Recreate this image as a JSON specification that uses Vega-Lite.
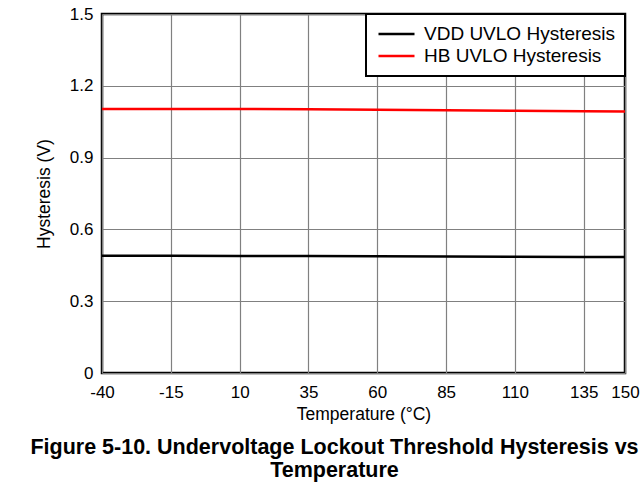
{
  "$schema": "https://vega.github.io/schema/vega-lite/v6.json",
  "width": 523,
  "height": 359,
  "autosize": {"type": "none"},
  "padding": {"left": 102, "top": 14, "right": 15, "bottom": 110},
  "background": "white",
  "config": {
    "font": "Liberation Sans",
    "view": {"stroke": "black", "strokeWidth": 2.5},
    "axis": {"labelFont": "Liberation Sans", "titleFont": "Liberation Sans", "labelColor": "black", "titleColor": "black", "titleFontWeight": "normal", "domain": false, "ticks": false, "gridColor": "#808080", "gridOpacity": 1, "gridWidth": 1.2}
  },
  "title": {
    "text": ["Figure 5-10. Undervoltage Lockout Threshold Hysteresis vs", "Temperature"],
    "orient": "bottom",
    "anchor": "middle",
    "font": "Liberation Sans",
    "fontSize": 21.5,
    "fontWeight": "bold",
    "color": "black",
    "lineHeight": 23.5,
    "dx": -29,
    "offset": 14
  },
  "data": {
    "values": [
      {"t": -40, "v": 0.490, "s": "VDD UVLO Hysteresis"},
      {"t": -15, "v": 0.490, "s": "VDD UVLO Hysteresis"},
      {"t": 10, "v": 0.489, "s": "VDD UVLO Hysteresis"},
      {"t": 35, "v": 0.489, "s": "VDD UVLO Hysteresis"},
      {"t": 60, "v": 0.488, "s": "VDD UVLO Hysteresis"},
      {"t": 85, "v": 0.487, "s": "VDD UVLO Hysteresis"},
      {"t": 110, "v": 0.486, "s": "VDD UVLO Hysteresis"},
      {"t": 135, "v": 0.485, "s": "VDD UVLO Hysteresis"},
      {"t": 150, "v": 0.485, "s": "VDD UVLO Hysteresis"},
      {"t": -40, "v": 1.103, "s": "HB UVLO Hysteresis"},
      {"t": -15, "v": 1.103, "s": "HB UVLO Hysteresis"},
      {"t": 10, "v": 1.103, "s": "HB UVLO Hysteresis"},
      {"t": 35, "v": 1.102, "s": "HB UVLO Hysteresis"},
      {"t": 60, "v": 1.100, "s": "HB UVLO Hysteresis"},
      {"t": 85, "v": 1.098, "s": "HB UVLO Hysteresis"},
      {"t": 110, "v": 1.096, "s": "HB UVLO Hysteresis"},
      {"t": 135, "v": 1.094, "s": "HB UVLO Hysteresis"},
      {"t": 150, "v": 1.093, "s": "HB UVLO Hysteresis"}
    ]
  },
  "mark": {"type": "line", "strokeWidth": 2.5},
  "encoding": {
    "x": {
      "field": "t", "type": "quantitative",
      "scale": {"domain": [-40, 150], "nice": false},
      "axis": {"values": [-40, -15, 10, 35, 60, 85, 110, 135, 150], "labelExpr": "'' + datum.value", "title": "Temperature (°C)", "labelFontSize": 17, "titleFontSize": 17.5, "labelPadding": 11, "titlePadding": 5, "labelFlush": false}
    },
    "y": {
      "field": "v", "type": "quantitative",
      "scale": {"domain": [0, 1.5], "nice": false},
      "axis": {"values": [0, 0.3, 0.6, 0.9, 1.2, 1.5], "format": "~g", "title": "Hysteresis (V)", "labelFontSize": 17, "titleFontSize": 17.5, "labelPadding": 9, "titlePadding": 16}
    },
    "color": {
      "field": "s", "type": "nominal",
      "sort": ["VDD UVLO Hysteresis", "HB UVLO Hysteresis"],
      "scale": {"domain": ["VDD UVLO Hysteresis", "HB UVLO Hysteresis"], "range": ["black", "#ff0000"]},
      "legend": {
        "title": null, "orient": "top-right", "offset": 0,
        "symbolType": "stroke", "symbolStrokeWidth": 2.5, "symbolSize": 1296, "symbolOffset": 2,
        "labelFontSize": 19, "labelColor": "black", "labelFont": "Liberation Sans", "labelOffset": 8,
        "strokeColor": "black", "fillColor": "white", "padding": 9, "rowPadding": 0, "clipHeight": 22,
        "labelLimit": 300,
        "encode": {"legend": {"update": {"strokeWidth": {"value": 2}}}}
      }
    }
  }
}
